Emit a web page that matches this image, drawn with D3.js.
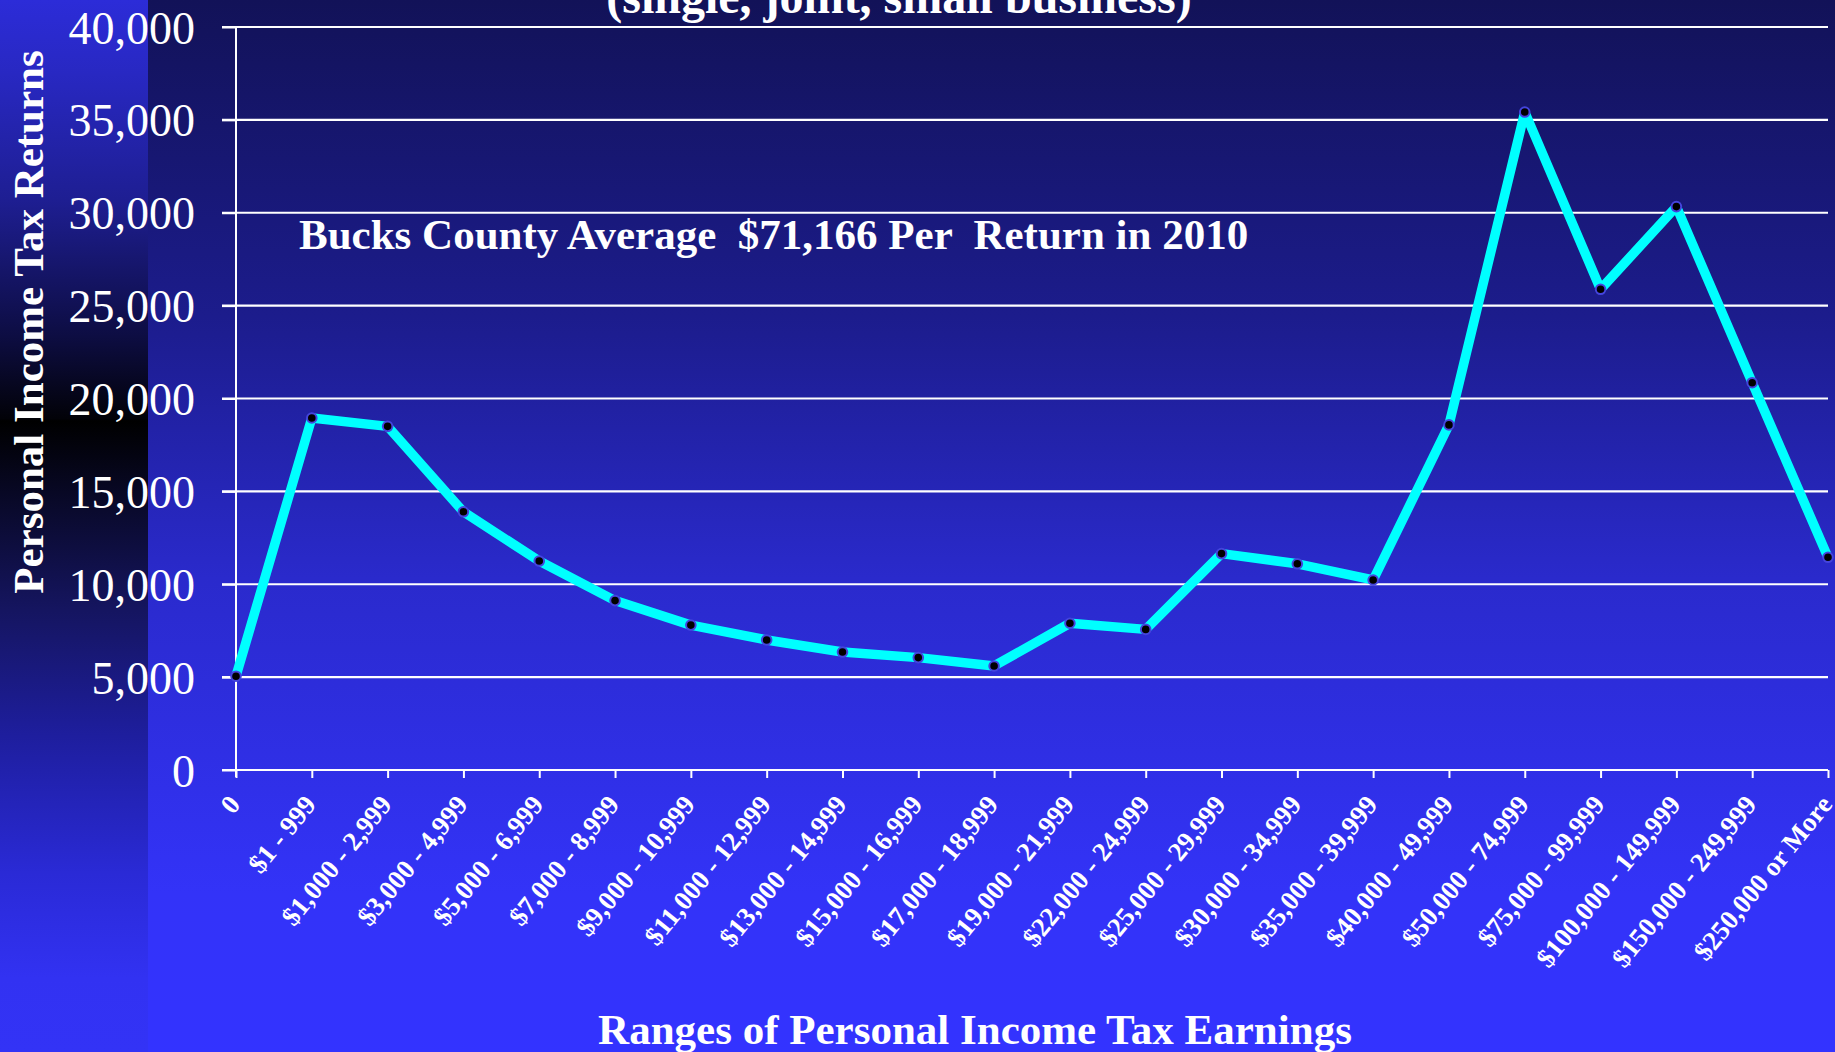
<!DOCTYPE html>
<html>
<head>
<meta charset="utf-8">
<script src="https://cdn.jsdelivr.net/npm/d3@7"></script>
<style>
html,body{margin:0;padding:0;background:#3333ff;}
svg{display:block;}
text{font-family:"Liberation Serif","Times New Roman",serif;fill:#fff;}
</style>
</head>
<body>
<svg id="chart" width="1835" height="1052"></svg>
<script>
// ---- data ----
const categories = ["0","$1 - 999","$1,000 - 2,999","$3,000 - 4,999","$5,000 - 6,999","$7,000 - 8,999",
  "$9,000 - 10,999","$11,000 - 12,999","$13,000 - 14,999","$15,000 - 16,999","$17,000 - 18,999",
  "$19,000 - 21,999","$22,000 - 24,999","$25,000 - 29,999","$30,000 - 34,999","$35,000 - 39,999",
  "$40,000 - 49,999","$50,000 - 74,999","$75,000 - 99,999","$100,000 - 149,999","$150,000 - 249,999",
  "$250,000 or More"];
const returns = [5050,18950,18500,13900,11250,9120,7800,7000,6350,6050,5600,
  7900,7570,11650,11100,10230,18580,35420,25880,30330,20850,11450];
const yTicks = [0,5000,10000,15000,20000,25000,30000,35000,40000];
const titleText = "(single, joint, small business)";
const noteText = "Bucks County Average  $71,166 Per  Return in 2010";
const yTitle = "Personal Income Tax Returns";
const xTitle = "Ranges of Personal Income Tax Earnings";

// ---- layout ----
const svg = d3.select("#chart");
const W = 1835, H = 1052;
const x = d3.scalePoint().domain(categories).range([236, 1828]);
const y = d3.scaleLinear().domain([0, 40000]).range([770, 27]);

const defs = svg.append("defs");
const bg = defs.append("linearGradient").attr("id","bg").attr("x1",0).attr("y1",0).attr("x2",0).attr("y2",1);
[[0,"#121258"],[0.3,"#1c1c8c"],[0.55,"#2a2acc"],[0.85,"#3333f8"],[1,"#3333ff"]]
  .forEach(s=>bg.append("stop").attr("offset",s[0]).attr("stop-color",s[1]));
const lp = defs.append("linearGradient").attr("id","lp").attr("x1",0).attr("y1",0).attr("x2",0).attr("y2",1);
[[0,"#2c2cd8"],[0.07,"#2828c2"],[0.19,"#1e1e92"],[0.32,"#0d0d42"],[0.398,"#020208"],[0.4,"#000000"],
 [0.58,"#151560"],[0.7,"#1e1e9e"],[0.83,"#2a2ad6"],[0.93,"#3232f2"],[1,"#3333f6"]]
  .forEach(s=>lp.append("stop").attr("offset",s[0]).attr("stop-color",s[1]));

svg.append("rect").attr("width",W).attr("height",H).attr("fill","url(#bg)");
svg.append("rect").attr("width",148).attr("height",H).attr("fill","url(#lp)");

// gridlines
svg.append("g").selectAll("line").data(yTicks).join("line")
  .attr("x1",222).attr("x2",1828)
  .attr("y1",d=>y(d)).attr("y2",d=>y(d))
  .attr("stroke","#ffffff").attr("stroke-width",2.2);

// y axis
const yAxis = svg.append("g").attr("transform","translate(236,0)")
  .call(d3.axisLeft(y).tickValues(yTicks).tickFormat(d3.format(",")).tickSizeInner(14).tickSizeOuter(0).tickPadding(27));
yAxis.select(".domain").remove();
yAxis.selectAll("line").attr("stroke","#fff").attr("stroke-width",2);
yAxis.selectAll("text").attr("font-size",46).attr("fill","#fff").attr("dy","0.35em")
  .style("font-family","'Liberation Serif',serif");
svg.append("line").attr("x1",236).attr("x2",236).attr("y1",y(40000)).attr("y2",y(0)+7)
  .attr("stroke","#fff").attr("stroke-width",2);

// x axis
const xAxis = svg.append("g").attr("transform",`translate(0,${y(0)})`)
  .call(d3.axisBottom(x).tickSizeInner(8).tickSizeOuter(0));
xAxis.select(".domain").remove();
xAxis.selectAll("line").attr("stroke","#fff").attr("stroke-width",2);
xAxis.selectAll("text")
  .attr("font-size",27).attr("font-weight","bold").attr("fill","#fff")
  .style("font-family","'Liberation Serif',serif")
  .attr("text-anchor","end").attr("dy",0).attr("y",0)
  .attr("transform","translate(5,35) rotate(-51)");

// line + markers
const line = d3.line().x((d,i)=>x(categories[i])).y(d=>y(d));
svg.append("path").datum(returns).attr("d",line)
  .attr("fill","none").attr("stroke","#00ffff").attr("stroke-width",9.5).attr("stroke-linejoin","round");
svg.append("g").selectAll("circle").data(returns).join("circle")
  .attr("cx",(d,i)=>x(categories[i])).attr("cy",d=>y(d)).attr("r",4.8)
  .attr("fill","#000").attr("stroke","#4444dd").attr("stroke-width",2);

// texts
svg.append("text").attr("x",899).attr("y",13).attr("text-anchor","middle")
  .attr("font-size",48).attr("font-weight","bold").text(titleText);
svg.append("text").attr("x",299).attr("y",249).attr("font-size",43).attr("font-weight","bold")
  .attr("xml:space","preserve").style("white-space","pre").text(noteText);
svg.append("text").attr("transform","translate(43,322) rotate(-90)").attr("text-anchor","middle")
  .attr("font-size",43).attr("font-weight","bold").text(yTitle);
svg.append("text").attr("x",975).attr("y",1044).attr("text-anchor","middle")
  .attr("font-size",43).attr("font-weight","bold").text(xTitle);
</script>
</body>
</html>
